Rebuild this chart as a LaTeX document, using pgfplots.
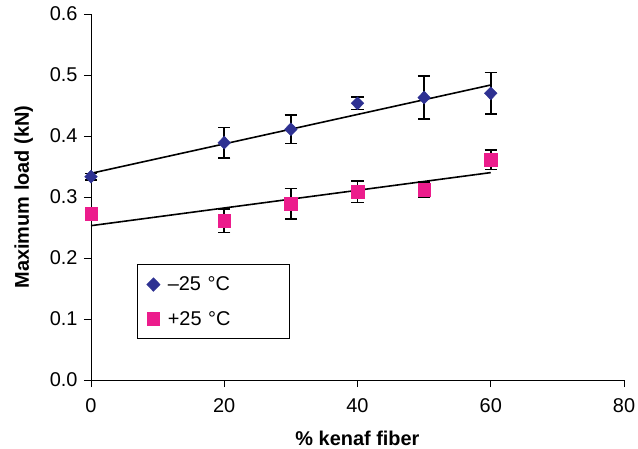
\documentclass[border=0pt]{standalone}
\usepackage{pgfplots}
\pgfplotsset{compat=1.18}
\usepackage{fontspec}
\setmainfont{Liberation Sans}
\definecolor{dblue}{HTML}{2E3192}
\definecolor{mpink}{HTML}{EC1C8C}
\begin{document}
\begin{tikzpicture}
\begin{axis}[
  scale only axis, width=533bp, height=366bp,
  at={(0,0)}, anchor=south west,
  xmin=0, xmax=80, ymin=0, ymax=0.6,
  axis x line=bottom, axis y line=left,
  axis line style={-, line width=1pt},
  tick style={line width=1pt, black},
  tick align=outside, major tick length=7bp,
  xtick={0,20,40,60,80}, ytick={0,0.1,0.2,0.3,0.4,0.5,0.6},
  yticklabel style={/pgf/number format/fixed, /pgf/number format/fixed zerofill, /pgf/number format/precision=1, xshift=-3bp},
  xticklabel style={yshift=-8bp},
  /pgf/number format/assume math mode=true,
  ticklabel style={font=\fontsize{20}{24}\selectfont},
  xlabel={\textbf{\% kenaf fiber}}, ylabel={\textbf{Maximum load (kN)}},
  label style={font=\fontsize{20}{24}\selectfont},
  xlabel style={yshift=-12bp},
  ylabel style={yshift=10bp},
  clip=false,
  legend style={at={(0.0856,0.316)}, anchor=north west, draw=black, line width=1pt,
    font=\fontsize{20}{24}\selectfont, row sep=15bp, column sep=6bp, inner xsep=10bp, inner ysep=10bp,
    text width=110bp},
  legend cell align=left,
]
% trend lines
\addplot[black, line width=1.6pt, forget plot] coordinates {(0,0.3388) (60,0.4836)};
\addplot[black, line width=1.6pt, forget plot] coordinates {(0,0.253) (60,0.340)};
\addplot[only marks, mark=diamond*, mark size=6.5bp, color=dblue, mark options={fill=dblue, draw=dblue, xscale=1.3},
  error bars/.cd, y dir=both, y explicit, error bar style={black, line width=1.6pt},
  error mark options={black, line width=1.6pt, mark size=6.2bp, rotate=90}]
  coordinates {
  (0,0.3333) +- (0,0.005)
  (20,0.389) +- (0,0.025)
  (30,0.411) +- (0,0.023)
  (40,0.4536) +- (0,0.010)
  (50,0.463) +- (0,0.035)
  (60,0.470) +- (0,0.034)
  };
\addlegendentry{–25 °C}
\addplot[only marks, mark=square*, mark size=6.2bp, color=mpink, mark options={fill=mpink, draw=mpink},
  error bars/.cd, y dir=both, y explicit, error bar style={black, line width=1.6pt},
  error mark options={black, line width=1.6pt, mark size=6.2bp, rotate=90}]
  coordinates {
  (0,0.2727) +- (0,0.007)
  (20,0.261) +- (0,0.019)
  (30,0.289) +- (0,0.025)
  (40,0.3087) +- (0,0.018)
  (50,0.312) +- (0,0.013)
  (60,0.361) +- (0,0.016)
  };
\addlegendentry{+25 °C}
\end{axis}
\pgfresetboundingbox
\path (-91bp,-69bp) rectangle (547bp,380bp);
\end{tikzpicture}
\end{document}
